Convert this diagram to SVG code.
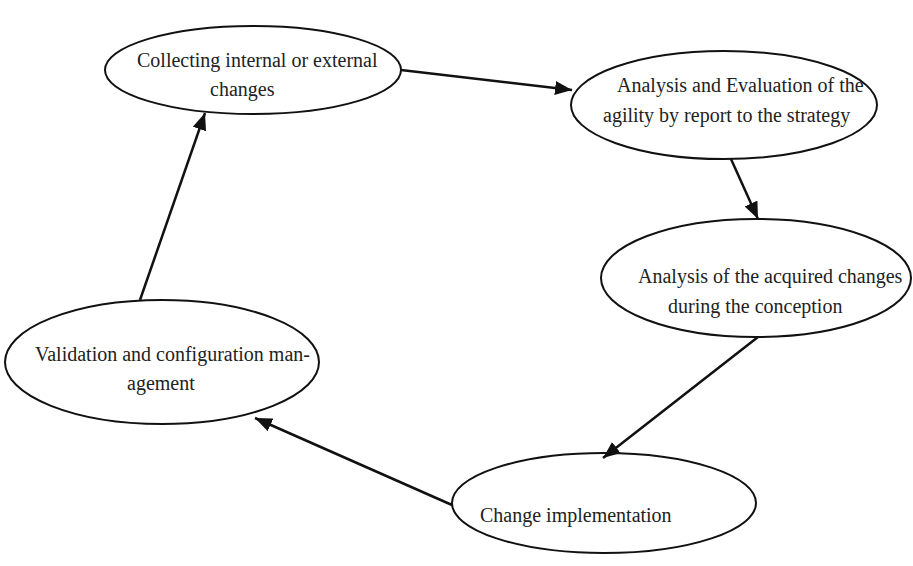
<svg xmlns="http://www.w3.org/2000/svg" width="913" height="566" viewBox="0 0 913 566">
  <style>
    .node ellipse { fill: #ffffff; stroke: #111111; stroke-width: 2; }
    .node text { font-family: "Liberation Serif", "Times New Roman", serif; font-size: 20px; fill: #222222; }
    .edge { stroke: #111111; stroke-width: 2.5; fill: none; marker-end: url(#arrow); }
  </style>
  <defs>
    <marker id="arrow" markerUnits="userSpaceOnUse" markerWidth="18" markerHeight="14" refX="17" refY="7" orient="auto">
      <path d="M0,0 L17,7 L0,14 z" fill="#111111"/>
    </marker>
  </defs>
  <rect width="913" height="566" fill="#ffffff"/>

  <g id="n-collecting" class="node">
    <ellipse cx="253" cy="70" rx="148" ry="44"/>
    <text x="137" y="67">Collecting internal or external</text>
    <text x="210" y="96">changes</text>
  </g>

  <g id="n-analysis-evaluation" class="node">
    <ellipse cx="724" cy="105" rx="153" ry="54"/>
    <text x="617" y="92">Analysis and Evaluation of the</text>
    <text x="603" y="122">agility by report to the strategy</text>
  </g>

  <g id="n-acquired-changes" class="node">
    <ellipse cx="756" cy="278" rx="155" ry="59"/>
    <text x="638" y="283">Analysis of the acquired changes</text>
    <text x="668" y="313">during the conception</text>
  </g>

  <g id="n-validation" class="node">
    <ellipse cx="162" cy="362" rx="157" ry="62"/>
    <text x="35" y="361">Validation and configuration man-</text>
    <text x="127" y="390">agement</text>
  </g>

  <g id="n-implementation" class="node">
    <ellipse cx="604" cy="503" rx="152" ry="50"/>
    <text x="480" y="522">Change implementation</text>
  </g>

  <g id="connectors">
    <line class="edge" x1="401" y1="70" x2="572" y2="90"/>
    <line class="edge" x1="731" y1="159" x2="758" y2="219"/>
    <line class="edge" x1="758" y1="337" x2="603" y2="458"/>
    <line class="edge" x1="452" y1="505" x2="255" y2="418"/>
    <line class="edge" x1="140" y1="300" x2="205" y2="113"/>
  </g>
</svg>
